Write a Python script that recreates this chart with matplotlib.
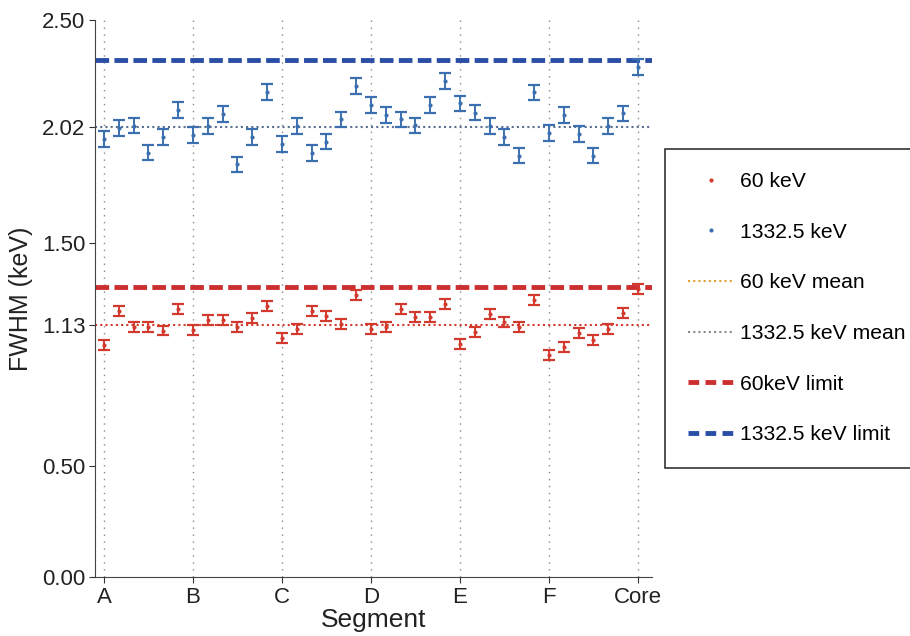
import matplotlib
matplotlib.use("Agg")
import matplotlib.pyplot as plt
import numpy as np
from matplotlib.lines import Line2D

plt.rcParams['font.family'] = ['Liberation Sans', 'DejaVu Sans']

segment_labels = ['A', 'B', 'C', 'D', 'E', 'F', 'Core']
segment_tick_index = [0, 6, 12, 18, 24, 30, 36]

fwhm_60 = [1.041, 1.194, 1.121, 1.121, 1.106, 1.203, 1.109, 1.153, 1.153, 1.121,
           1.161, 1.216, 1.074, 1.113, 1.195, 1.173, 1.136, 1.266, 1.113, 1.121,
           1.203, 1.166, 1.166, 1.225, 1.046, 1.098, 1.179, 1.146, 1.121, 1.243,
           0.996, 1.034, 1.094, 1.064, 1.112, 1.184, 1.293]
err_60 = [0.022] * 37

fwhm_1332 = [1.966, 2.014, 2.026, 1.905, 1.974, 2.096, 1.984, 2.024, 2.078, 1.852,
             1.974, 2.178, 1.943, 2.024, 1.902, 1.954, 2.054, 2.204, 2.118, 2.074,
             2.054, 2.027, 2.118, 2.226, 2.126, 2.084, 2.024, 1.974, 1.891, 2.175,
             1.994, 2.074, 1.988, 1.891, 2.024, 2.081, 2.288]
err_1332 = [0.035] * 37

mean_60 = 1.13
mean_1332 = 2.02
limit_60 = 1.30
limit_1332 = 2.32

ytick_vals = [0.00, 0.50, 1.13, 1.50, 2.02, 2.50]

red = '#d23a2e'
blue = '#3c6fb0'
red_lim = '#cc2f2f'
blue_lim = '#2a4ea6'
dash = (0, (2.8, 1.1))
dot = (0, (1, 1.5))

fig = plt.figure(figsize=(9.1, 6.36), dpi=100)
ax = fig.add_axes([0.1044, 0.0928, 0.612, 0.8758])

x = np.arange(len(fwhm_60))

for xt in segment_tick_index:
    ax.axvline(xt, color='#888888', linestyle=(0, (1, 4)), linewidth=1.0, zorder=0)

ax.axhline(mean_60, color=red, linestyle=dot, linewidth=1.5, zorder=1)
ax.axhline(mean_1332, color='#5a6f90', linestyle=dot, linewidth=1.5, zorder=1)
ax.axhline(limit_60, color=red_lim, linestyle=dash, linewidth=3.5, zorder=2)
ax.axhline(limit_1332, color=blue_lim, linestyle=dash, linewidth=3.5, zorder=2)

ax.errorbar(x, fwhm_60, yerr=err_60, fmt='o', color=red, ecolor=red, markersize=2,
            capsize=4, capthick=1.6, elinewidth=1.4, zorder=3)
ax.errorbar(x, fwhm_1332, yerr=err_1332, fmt='o', color=blue, ecolor=blue, markersize=2,
            capsize=4, capthick=1.6, elinewidth=1.4, zorder=3)

ax.set_xlim(-0.6, 36.95)
ax.set_ylim(0, 2.5)
ax.set_xticks(segment_tick_index)
ax.set_xticklabels(segment_labels)
ax.set_yticks(ytick_vals)
ax.set_yticklabels([f'{v:.2f}' for v in ytick_vals])
ax.tick_params(labelsize=16, length=4, color='#333333', labelcolor='#222222', pad=3)
ax.set_xlabel('Segment', fontsize=19, labelpad=0, color='#222222')
ax.set_ylabel('FWHM (keV)', fontsize=18, labelpad=6, color='#222222')
for s in ['top', 'right']:
    ax.spines[s].set_visible(False)
for s in ['left', 'bottom']:
    ax.spines[s].set_color('#444444')

handles = [
    Line2D([], [], linestyle='none', marker='o', markersize=2, color=red),
    Line2D([], [], linestyle='none', marker='o', markersize=2, color=blue),
    Line2D([], [], linestyle=dot, color='#e0a030', linewidth=1.5),
    Line2D([], [], linestyle=dot, color='#8a8a8a', linewidth=1.5),
    Line2D([], [], linestyle=(0, (2.2, 1.3)), color=red_lim, linewidth=3.5),
    Line2D([], [], linestyle=(0, (2.2, 1.3)), color=blue_lim, linewidth=3.5),
]
labels = ['60 keV', '1332.5 keV', '60 keV mean', '1332.5 keV mean',
          '60keV limit', '1332.5 keV limit']
leg = fig.legend(handles, labels, loc='upper left', bbox_to_anchor=(0.731, 0.766),
                 fontsize=15.2, labelspacing=1.5, handlelength=2.1, handletextpad=0.35,
                 borderpad=1.1, borderaxespad=0, fancybox=False, edgecolor='#333333',
                 framealpha=1)
leg.get_frame().set_linewidth(1.2)

fig.savefig('out.png', dpi=100)
